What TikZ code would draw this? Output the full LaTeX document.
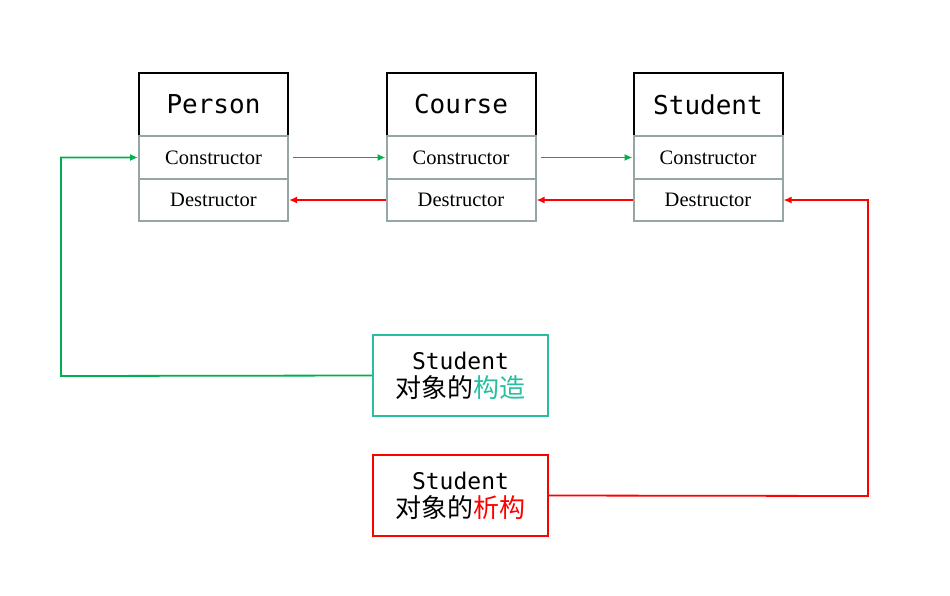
\documentclass[tikz,border=0pt]{standalone}
\usepackage{xcolor}
\usepackage{fontspec}
\setmainfont{Liberation Serif}
\newfontfamily\cjk{Noto Sans CJK SC}
\newfontfamily\mono{DejaVu Sans Mono}
\usetikzlibrary{arrows.meta, positioning}

\definecolor{ctorgreen}{RGB}{0,176,80}
\definecolor{noteteal}{RGB}{40,190,160}
\definecolor{rowgray}{RGB}{150,165,165}

\begin{document}
\begin{tikzpicture}[x=1pt, y=-1pt,
            hdr/.style={rectangle, draw=black, line width=2pt, fill=white,
                    minimum width=149pt, minimum height=63pt, inner sep=0pt,
                    font=\mono\fontsize{26}{30}\selectfont},
            row/.style={rectangle, draw=rowgray, line width=2pt, fill=white,
                    minimum width=149pt, minimum height=43pt, inner sep=0pt,
                    font=\fontsize{20.5}{24}\selectfont},
            note/.style={rectangle, line width=2pt, fill=white,
                    minimum width=175pt, minimum height=81pt, inner sep=0pt,
                    align=center},
            ctor/.style={draw=ctorgreen, line width=1.8pt, -{Latex[length=8pt,width=7pt]}},
            dtor/.style={draw=red, line width=1.8pt, -{Latex[length=8pt,width=7pt]}}
            ]
            \useasboundingbox (0,0) rectangle (950,595);

            %% ---- Classes ----
            %% Person (213.5)
            \node[hdr] (phdr) at (213.5,104.5)  {Person};
            \node[row] (pctor) at (213.5,157.5) {Constructor};
            \node[row, minimum height=42pt] (pdtor) at (213.5,200) {Destructor};

            %% Course (461)
            \node[hdr] (chdr) at (461,104.5)    {Course};
            \node[row] (cctor) at (461,157.5)   {Constructor};
            \node[row, minimum height=42pt] (cdtor) at (461,200) {Destructor};

            %% Student (708)
            \node[hdr] (shdr) at (708,104.5)    {Student};
            \node[row] (sctor) at (708,157.5)   {Constructor};
            \node[row, minimum height=42pt] (sdtor) at (708,200) {Destructor};

            %% ---- Notes ----
            \node[note, draw=noteteal] (cnote) at (460.5,375.5) {
                {\mono\fontsize{23}{30}\selectfont Student}\\[5pt]
                {\cjk\fontsize{26}{30}\selectfont 对象的\textcolor{noteteal}{构造}}
            };
            \node[note, draw=red] (dnote) at (460.5,495.5) {
                {\mono\fontsize{23}{30}\selectfont Student}\\[5pt]
                {\cjk\fontsize{26}{30}\selectfont 对象的\textcolor{red}{析构}}
            };

            %% ---- Call order ----
            % constructors: Person -> Course -> Student
            \draw[ctor] ([xshift=4pt]pctor.east) -- (cctor.west);
            \draw[ctor] ([xshift=4pt]cctor.east) -- (sctor.west);
            % destructors: Student -> Course -> Person
            \draw[dtor] (sdtor.west) -- (cdtor.east);
            \draw[dtor] (cdtor.west) -- (pdtor.east);
            % construction starts at Person
            \coordinate (gturn) at (61,376);
            \draw[ctor] (cnote.west) -- (gturn) |- (pctor.west);
            % destruction starts at Student
            \coordinate (rturn) at (868,496);
            \draw[dtor] (dnote.east) -- (rturn) |- (sdtor.east);
        \end{tikzpicture}
\end{document}
